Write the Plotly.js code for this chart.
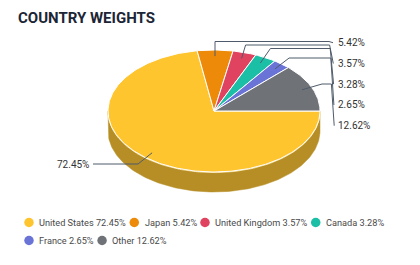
<!DOCTYPE html>
<html><head><meta charset="utf-8">
<script src="https://cdn.plot.ly/plotly-3.0.1.min.js"></script>
<style>html,body{margin:0;padding:0;background:#fff}#chart{width:420px;height:265px}</style>
</head><body><div id="chart"></div>
<script>
// ---- data ----
const countries = ['United States', 'Japan', 'United Kingdom', 'Canada', 'France', 'Other'];
const weights = [72.45, 5.42, 3.57, 3.28, 2.65, 12.62];
const labelTexts = weights.map(v => v.toFixed(2) + '%');
const legendTexts = countries.map((c, i) => c + ' ' + labelTexts[i]);

// ---- style / layout ----
const colors = ['#FFC52F', '#EE8A0A', '#E0435F', '#1BBFA6', '#6A74D6', '#6F7377'];
const sideColor = '#B78E26';
const CX = 214, CY = 111, RA = 106, RB = 61, DEPTH = 20, START = 90;
const FONT = 'Roboto, "Open Sans", sans-serif';
const TXT = 9.2;

function pt(theta, r, dy) {
  const t = theta * Math.PI / 180;
  return [CX + RA * r * Math.sin(t), CY - RB * r * Math.cos(t) + (dy || 0)];
}
function arc(t1, t2, r, dy) {
  const n = Math.max(2, Math.ceil(Math.abs(t2 - t1)));
  const out = [];
  for (let i = 0; i <= n; i++) out.push(pt(t1 + (t2 - t1) * i / n, r, dy));
  return out;
}

const total = weights.reduce((a, b) => a + b, 0);
const traces = [];
// side (visible front half)
{
  const top = arc(90, 270, 1, 0);
  const bot = arc(270, 90, 1, DEPTH);
  const all = top.concat(bot);
  all.push(top[0]);
  traces.push({x: all.map(p => p[0]), y: all.map(p => p[1]), type: 'scatter', mode: 'lines',
    fill: 'toself', fillcolor: sideColor, line: {color: sideColor, width: 0.5}, hoverinfo: 'skip', showlegend: false});
  const hl = arc(90, 270, 1, 0.6);
  traces.push({x: hl.map(p => p[0]), y: hl.map(p => p[1]), type: 'scatter', mode: 'lines',
    line: {color: '#F3DB8F', width: 1}, hoverinfo: 'skip', showlegend: false});
}
// top slices
let acc = START;
const mids = [];
weights.forEach((w, i) => {
  const span = w / total * 360;
  const t1 = acc, t2 = acc + span;
  mids.push((t1 + t2) / 2);
  const pts = [[CX, CY]].concat(arc(t1, t2, 1, 0));
  pts.push([CX, CY]);
  traces.push({x: pts.map(p => p[0]), y: pts.map(p => p[1]), type: 'scatter', mode: 'lines',
    fill: 'toself', fillcolor: colors[i], line: {color: '#FFFFFF', width: 1}, hoverinfo: 'skip', showlegend: false});
  acc = t2;
});

// connectors & labels
const shapes = [];
const annotations = [];
const lineColor = '#4F5B6B';
function poly(points) {
  let d = 'M' + points.map(p => p[0].toFixed(1) + ',' + p[1].toFixed(1)).join(' L');
  shapes.push({type: 'path', path: d, xref: 'x', yref: 'y', line: {color: lineColor, width: 1}});
}
const rightLevels = [41.5, 45, 48.5, 58, 84];
const elbowDx = [0, 4, 10, 14, 20];
const labelY0 = 42.7, labelStep = 20.75;
for (let k = 1; k < weights.length; k++) {
  const s = pt(mids[k], 0.9, 0);
  const lvl = rightLevels[k - 1];
  const ly = labelY0 + (k - 1) * labelStep;
  poly([s, [s[0] + elbowDx[k - 1], lvl], [329 + (k - 1) * 0.6, lvl], [333 + (k-1)*0.3, ly]]);
  annotations.push({x: 336, y: ly, xref: 'x', yref: 'y', text: labelTexts[k], showarrow: false,
    xanchor: 'left', yanchor: 'middle', font: {family: FONT, size: 10, color: '#333333'}});
}
{
  const s = pt(mids[0], 0.9, 0);
  poly([s, [138, 164], [93, 164]]);
  annotations.push({x: 91, y: 164, xref: 'x', yref: 'y', text: labelTexts[0], showarrow: false,
    xanchor: 'right', yanchor: 'middle', font: {family: FONT, size: 10, color: '#333333'}});
}

// legend (custom)
const cv = document.createElement('canvas').getContext('2d');
cv.font = TXT + 'px Roboto';
let lx = 29, ly = 222.5;
const legX = [], legY = [];
legendTexts.forEach((t, i) => {
  const w = cv.measureText(t).width;
  if (lx + 8.5 + w > 410) { lx = 29; ly += 18; }
  legX.push(lx); legY.push(ly);
  annotations.push({x: lx + 8.3, y: ly, xref: 'x', yref: 'y', text: t, showarrow: false,
    xanchor: 'left', yanchor: 'middle', font: {family: FONT, size: TXT, color: '#4A4A4A'}});
  lx = lx + 8.5 + w + 10;
});
traces.push({x: legX, y: legY, type: 'scatter', mode: 'markers', hoverinfo: 'skip', showlegend: false,
  marker: {size: 9.5, color: colors, line: {width: 0}}});

const layout = {
  width: 420, height: 265,
  margin: {l: 0, r: 0, t: 0, b: 0},
  paper_bgcolor: '#FFFFFF', plot_bgcolor: '#FFFFFF',
  showlegend: false,
  title: {text: 'COUNTRY WEIGHTS', x: 18 / 420, xanchor: 'left', xref: 'paper',
    y: 1 - 17.5 / 265, yanchor: 'middle', yref: 'container',
    font: {family: 'Roboto, sans-serif', size: 15, weight: 700, color: '#1B2535'}},
  xaxis: {range: [0, 420], visible: false, fixedrange: true},
  yaxis: {range: [265, 0], visible: false, fixedrange: true},
  shapes: shapes, annotations: annotations
};
Plotly.newPlot('chart', traces, layout, {staticPlot: true, displayModeBar: false});
</script></body></html>
